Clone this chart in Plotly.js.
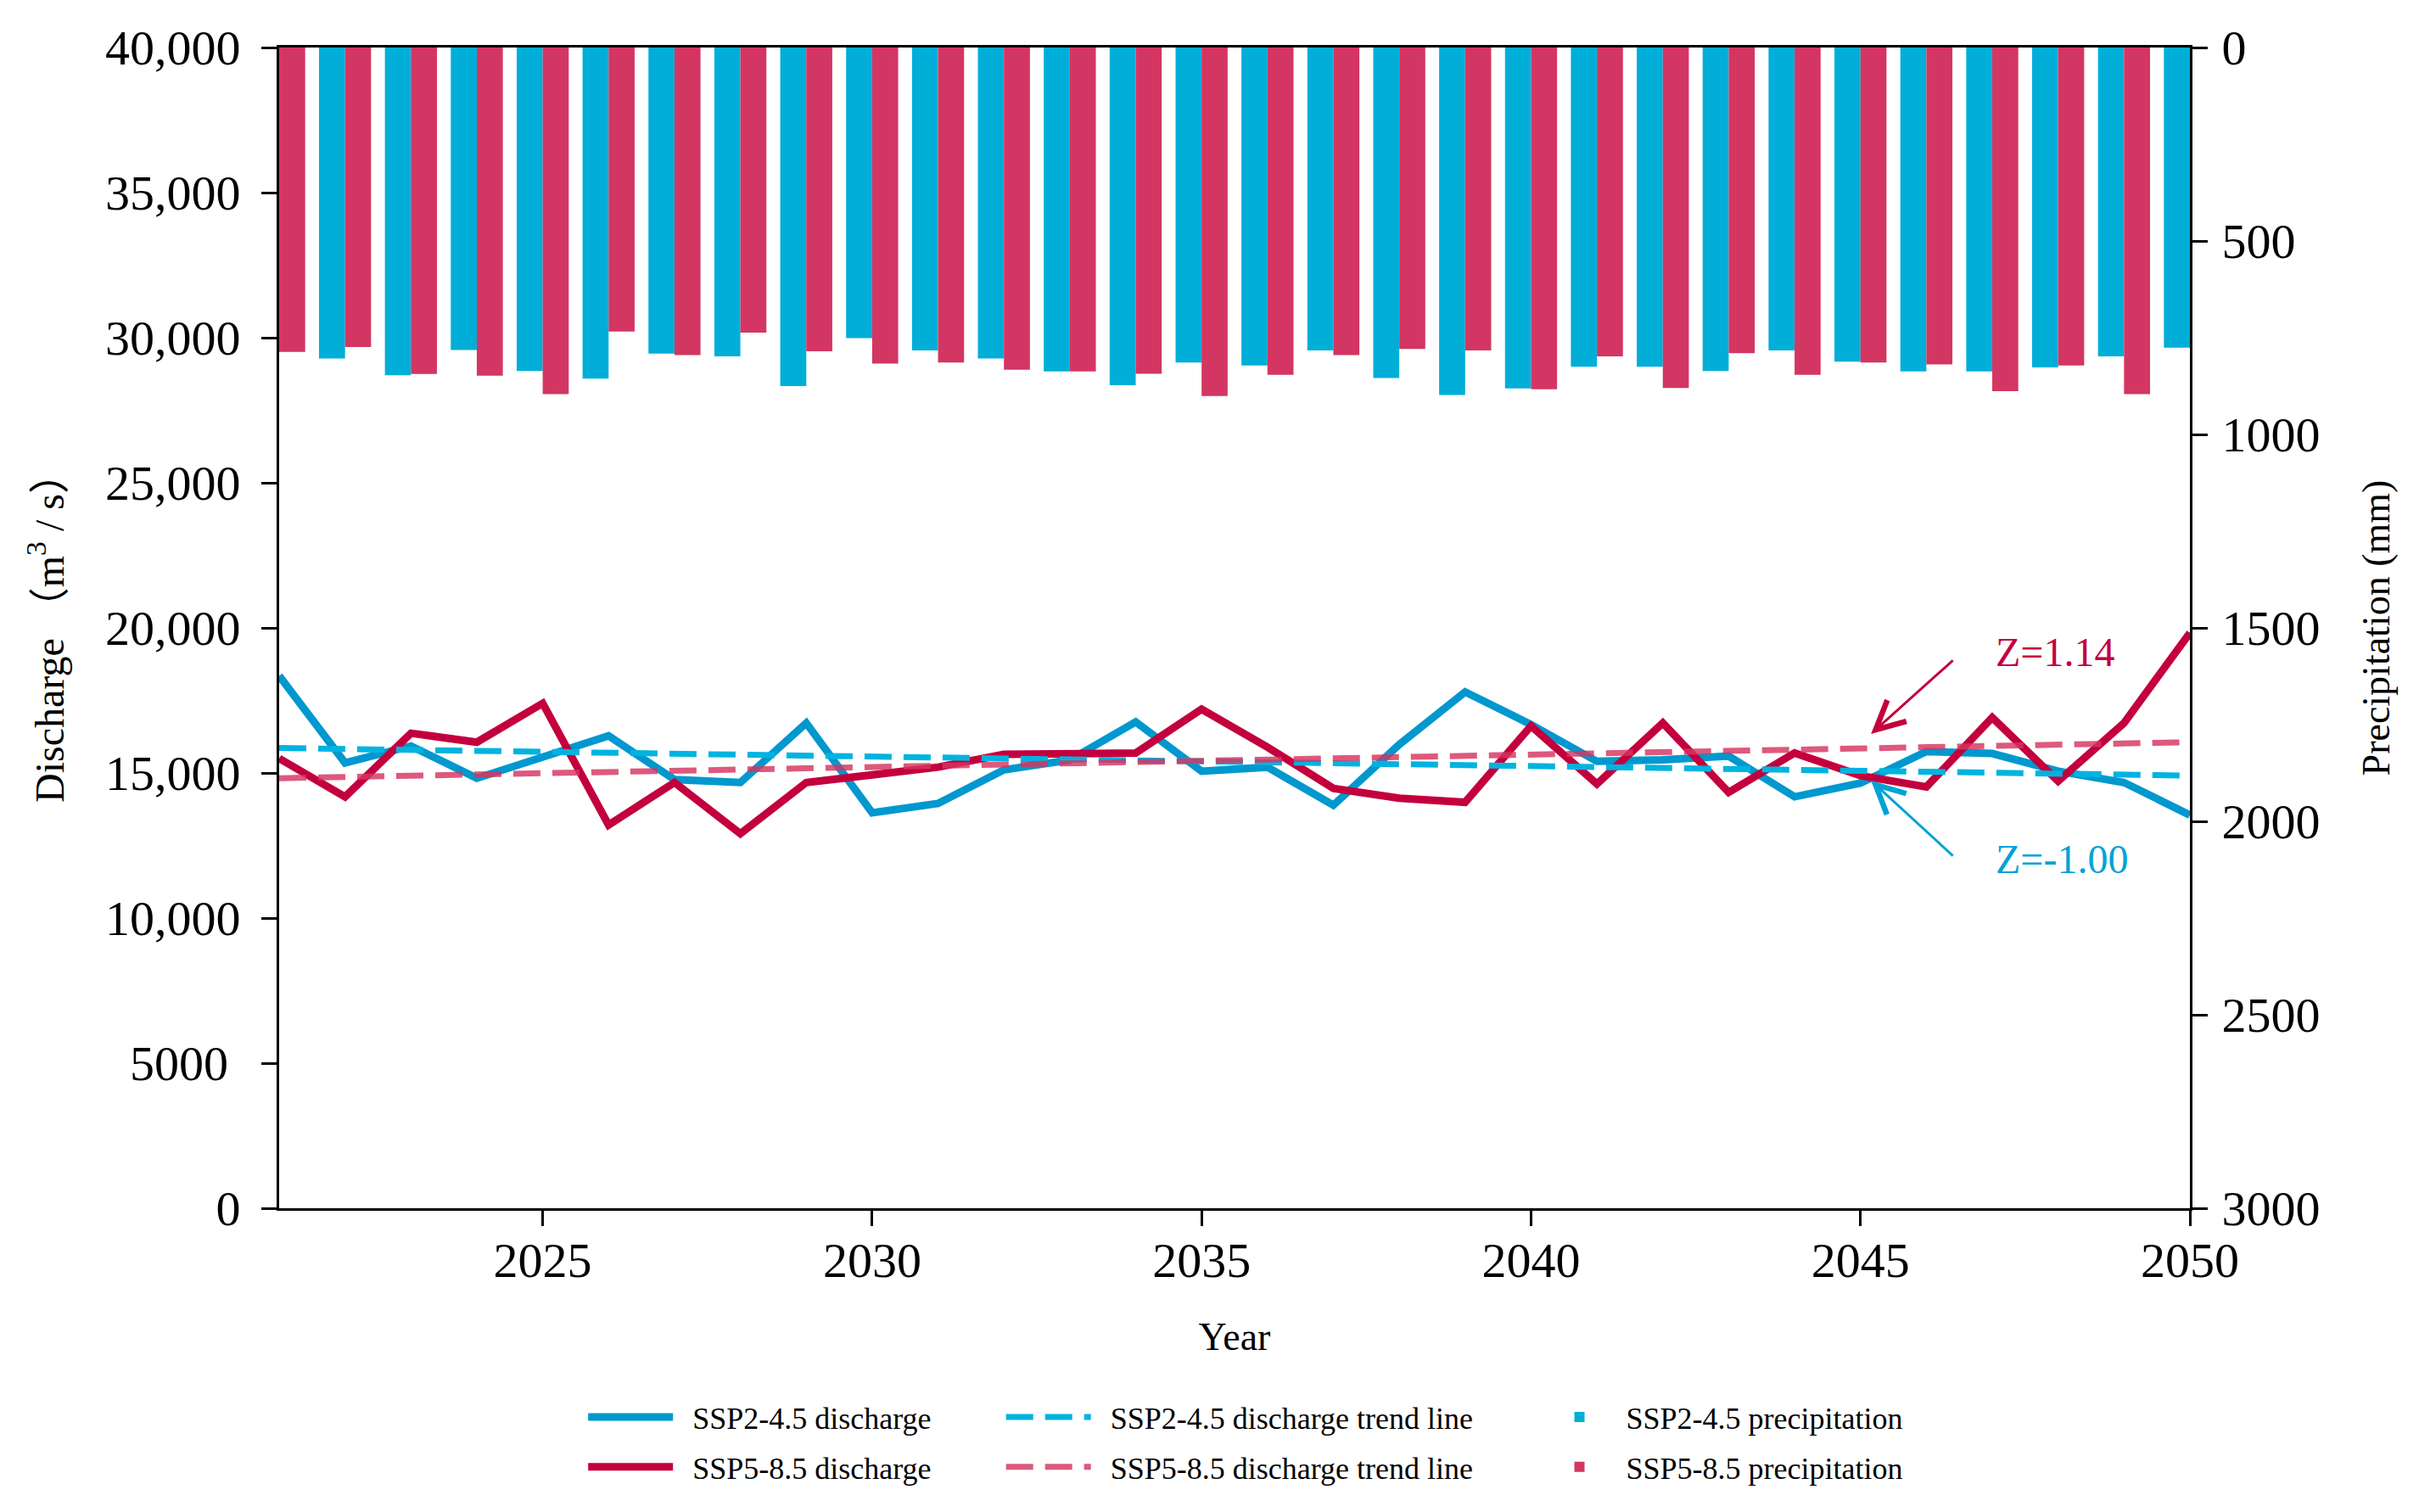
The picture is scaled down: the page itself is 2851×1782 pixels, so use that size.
<!DOCTYPE html>
<html>
<head>
<meta charset="utf-8">
<script src="https://cdn.plot.ly/plotly-3.0.1.min.js"></script>
<style>
  html, body { margin: 0; padding: 0; background: #ffffff; }
  #chart { width: 2851px; height: 1782px; }
</style>
</head>
<body>
<div id="chart"></div>
<script>
// ---- Data ----
const years = [2021,2022,2023,2024,2025,2026,2027,2028,2029,2030,
               2031,2032,2033,2034,2035,2036,2037,2038,2039,2040,
               2041,2042,2043,2044,2045,2046,2047,2048,2049,2050];

const ssp245Discharge = [18350,15350,15930,14820,15550,16280,14770,14670,16720,13630,
                         13950,15110,15450,16760,15060,15200,13890,15980,17790,16670,
                         15400,15450,15580,14180,14650,15740,15670,15060,14670,13550];

const ssp585Discharge = [15500,14180,16370,16060,17400,13210,14670,12910,14670,14960,
                         15200,15640,15690,15690,17200,15890,14470,14130,13990,16620,
                         14620,16720,14330,15690,14910,14520,16910,14720,16720,19830];

const trendYears = [2021, 2050];
const ssp245Trend = [15860, 14910];
const ssp585Trend = [14820, 16060];

const ssp245Precip = [null,804,847,782,836,856,791,798,875,751,
                      783,804,837,873,814,822,783,854,898,881,
                      825,825,836,783,812,837,837,827,798,776];

const ssp585Precip = [787,774,844,848,896,734,795,737,785,817,
                      814,833,837,843,901,846,795,779,783,883,
                      798,880,790,846,814,819,888,822,896,null];

const dischargeTickVals = [0,5000,10000,15000,20000,25000,30000,35000,40000];
const dischargeTickText = ['0','5000\u00a0','10,000','15,000','20,000','25,000','30,000','35,000','40,000'];
const precipTickVals = [0,500,1000,1500,2000,2500,3000];
const yearTickVals = [2025,2030,2035,2040,2045,2050];

const seriesNames = ['SSP2-4.5 discharge', 'SSP5-8.5 discharge',
                     'SSP2-4.5 discharge trend line', 'SSP5-8.5 discharge trend line',
                     'SSP2-4.5 precipitation', 'SSP5-8.5 precipitation'];
const zLabels = ['Z=1.14', 'Z=-1.00'];

// ---- Styles ----
const FONT = 'Liberation Serif, Times New Roman, serif';
const cBlueLine = '#0098CE';
const cRedLine = '#C3003D';
const cBlueTrend = '#00B3E0';
const cRedTrend = 'rgba(214,52,96,0.82)';
const cBlueBar = '#00AED8';
const cRedBar = '#D33662';
const cBlueText = '#00A3D6';
const PAD = '\u00a0\u00a0';

const traces = [
  {
    type: 'bar', x: years, y: ssp245Precip, yaxis: 'y2',
    name: seriesNames[4], marker: {color: cBlueBar, line: {width: 0}},
    legend: 'legend3', legendgroup: 'g5'
  },
  {
    type: 'bar', x: years, y: ssp585Precip, yaxis: 'y2',
    name: seriesNames[5], marker: {color: cRedBar, line: {width: 0}},
    legend: 'legend3', legendgroup: 'g6'
  },
  {
    type: 'scatter', mode: 'lines', x: years, y: ssp245Discharge,
    name: PAD + seriesNames[0], line: {color: cBlueLine, width: 9},
    legend: 'legend', legendgroup: 'g1'
  },
  {
    type: 'scatter', mode: 'lines', x: years, y: ssp585Discharge,
    name: PAD + seriesNames[1], line: {color: cRedLine, width: 9},
    legend: 'legend', legendgroup: 'g2'
  },
  {
    type: 'scatter', mode: 'lines', x: trendYears, y: ssp245Trend,
    name: PAD + seriesNames[2], line: {color: cBlueTrend, width: 7, dash: '32px,14px'},
    legend: 'legend2', legendgroup: 'g3'
  },
  {
    type: 'scatter', mode: 'lines', x: trendYears, y: ssp585Trend,
    name: PAD + seriesNames[3], line: {color: cRedTrend, width: 7, dash: '32px,14px'},
    legend: 'legend2', legendgroup: 'g4'
  }
];

const legendCommon = {
  orientation: 'v', xanchor: 'left', yanchor: 'top',
  font: {family: FONT, size: 36, color: '#000'},
  bgcolor: 'rgba(0,0,0,0)', borderwidth: 0,
  itemwidth: 100, tracegroupgap: 9, traceorder: 'grouped'
};

const layout = {
  width: 2851, height: 1782,
  paper_bgcolor: '#ffffff', plot_bgcolor: '#ffffff',
  margin: {l: 329, r: 270, t: 56, b: 358, pad: 0},
  font: {family: FONT, color: '#000', size: 36},
  showlegend: true,
  barmode: 'group', bargap: 0.21, bargroupgap: 0,
  xaxis: {
    range: [2021, 2050], tickvals: yearTickVals,
    showline: true, linecolor: '#000', linewidth: 3, mirror: true,
    ticks: 'outside', ticklen: 18, tickwidth: 3, tickcolor: '#000',
    showgrid: false, zeroline: false, ticklabelstandoff: -10,
    tickfont: {family: FONT, size: 58, color: '#000'},
    title: {text: 'Year', font: {family: FONT, size: 46, color: '#000'}, standoff: 43}
  },
  yaxis: {
    range: [0, 40000], tickvals: dischargeTickVals, ticktext: dischargeTickText,
    showline: true, linecolor: '#000', linewidth: 3,
    ticks: 'outside', ticklen: 18, tickwidth: 3, tickcolor: '#000',
    showgrid: false, zeroline: false, ticklabelstandoff: 13,
    tickfont: {family: FONT, size: 58, color: '#000'},
    title: {text: 'Discharge （m<sup>3</sup> / s）', font: {family: FONT + ', Noto Sans CJK SC', size: 48, color: '#000'}, standoff: 34}
  },
  yaxis2: {
    overlaying: 'y', side: 'right',
    range: [3000, 0], tickvals: precipTickVals,
    showline: true, linecolor: '#000', linewidth: 3,
    ticks: 'outside', ticklen: 18, tickwidth: 3, tickcolor: '#000',
    showgrid: false, zeroline: false, ticklabelstandoff: 5,
    tickfont: {family: FONT, size: 58, color: '#000'},
    title: {text: 'Precipitation (mm)', font: {family: FONT, size: 46, color: '#000'}, standoff: 51}
  },
  legend: Object.assign({}, legendCommon, {x: 0.1595, y: -0.158}),
  legend2: Object.assign({}, legendCommon, {x: 0.3782, y: -0.158}),
  legend3: Object.assign({}, legendCommon, {x: 0.6561, y: -0.158}),
  annotations: [
    {x: 2045.16, y: 16345, xref: 'x', yref: 'y', text: '', showarrow: true,
     ax: 98, ay: -88, arrowhead: 5, arrowsize: 2.2, arrowwidth: 3, arrowcolor: cRedLine, standoff: 0, startstandoff: 0},
    {x: 2045.16, y: 14737, xref: 'x', yref: 'y', text: '', showarrow: true,
     ax: 98, ay: 90, arrowhead: 5, arrowsize: 2.2, arrowwidth: 3, arrowcolor: cBlueText, standoff: 0, startstandoff: 0},
    {x: 2047.03, y: 19180, xref: 'x', yref: 'y', text: zLabels[0], showarrow: false,
     xanchor: 'left', yanchor: 'middle', font: {family: FONT, size: 48, color: cRedLine}},
    {x: 2047.03, y: 12020, xref: 'x', yref: 'y', text: zLabels[1], showarrow: false,
     xanchor: 'left', yanchor: 'middle', font: {family: FONT, size: 48, color: cBlueText}}
  ]
};

Plotly.newPlot('chart', traces, layout, {staticPlot: true, displayModeBar: false});
</script>
</body>
</html>
